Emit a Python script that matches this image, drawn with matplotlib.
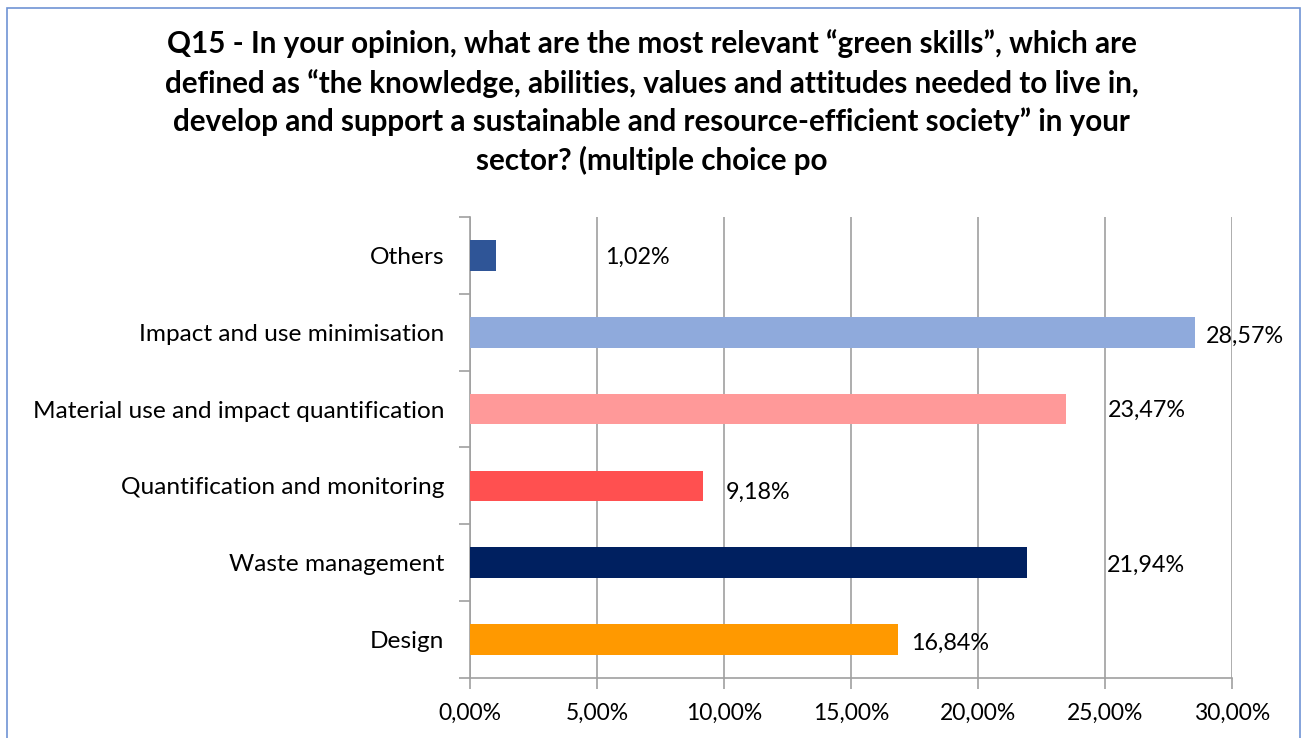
import numpy as np
import matplotlib.pyplot as plt
from matplotlib.patches import Rectangle
from matplotlib.ticker import FuncFormatter, MultipleLocator

plt.rcParams['font.family'] = ['Lato', 'DejaVu Sans']

# Survey answers, listed bottom to top
categories = ["Design", "Waste management", "Quantification and monitoring",
              "Material use and impact quantification", "Impact and use minimisation",
              "Others"]
shares = [16.84, 21.94, 9.18, 23.47, 28.57, 1.02]
colors = ["#ff9900", "#002060", "#ff5050", "#ff9999", "#8faadc", "#2f5597"]

# hand-placed label offsets (x in percent points, y in category units)
label_dx = [0.52, 3.14, 0.90, 1.65, 0.41, 4.29]
label_dy = [-0.05, -0.03, -0.09, -0.02, -0.05, -0.02]

title = ("Q15 - In your opinion, what are the most relevant \u201cgreen skills\u201d, which are\n"
         "defined as \u201cthe knowledge, abilities, values and attitudes needed to live in,\n"
         "develop and support a sustainable and resource-efficient society\u201d in your\n"
         "sector? (multiple choice po")

fig = plt.figure(figsize=(13.02, 7.38), dpi=100)
ax = fig.add_axes([0.361, 0.0813, 0.585, 0.6247])

y = np.arange(len(categories))
ax.barh(y, shares, height=0.4, color=colors, zorder=3)

for yi, v, dx, dy in zip(y, shares, label_dx, label_dy):
    ax.text(v + dx, yi + dy, f"{v:.2f}%".replace(".", ","), va="center", ha="left",
            fontsize=16.8, color="black", zorder=4)

ax.set_xlim(0, 30)
ax.set_ylim(-0.5, len(categories) - 0.5)
ax.xaxis.set_major_locator(MultipleLocator(5))
ax.xaxis.set_major_formatter(FuncFormatter(lambda v, p: f"{v:.2f}%".replace(".", ",")))
ax.set_yticks(y)
ax.set_yticklabels(categories)
ax.set_yticks(np.arange(-0.5, len(categories)), minor=True)
ax.tick_params(axis="y", which="major", length=0, pad=18.5, labelsize=17.6)
ax.tick_params(axis="y", which="minor", length=8, color="#a0a0a0", width=1.2)
ax.tick_params(axis="x", length=8, color="#a0a0a0", width=1.2, labelsize=16.5, pad=10)

ax.grid(axis="x", color="#a0a0a0", linewidth=1.2, zorder=0)
for side in ("top", "right"):
    ax.spines[side].set_visible(False)
for side in ("left", "bottom"):
    ax.spines[side].set_color("#a0a0a0")
    ax.spines[side].set_linewidth(1.2)

fig.text(0.5007, 0.960, title, ha="center", va="top", fontsize=21.3,
         fontweight="bold", linespacing=1.42)

# outer chart border
fig.patches.append(Rectangle((7 / 1302, -0.05), 1293 / 1302, 1.05 - 8 / 738,
                             transform=fig.transFigure, fill=False,
                             edgecolor="#7094d4", linewidth=1.2))

fig.savefig("out.png", dpi=100)
